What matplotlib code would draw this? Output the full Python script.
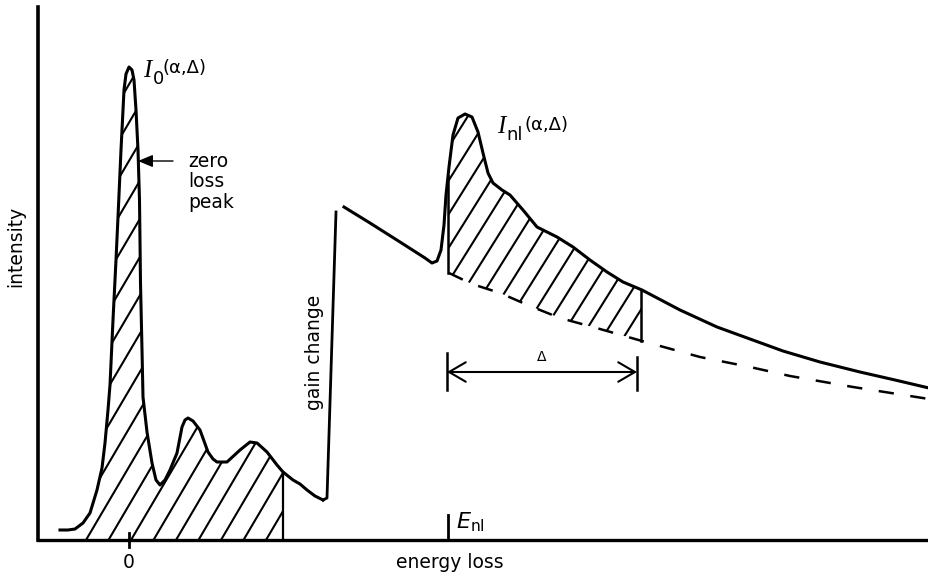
import numpy as np
import matplotlib.pyplot as plt
from matplotlib.collections import LineCollection
from matplotlib.patches import Polygon

# low-loss region: zero-loss peak + plasmon peaks (energy loss, intensity; arbitrary units)
low_e = [-6.9, -6.1, -5.4, -4.6, -3.9, -3.2, -2.7, -2.4, -2.1, -1.9, -1.6, -1.3, -1.1,
         -0.8, -0.5, -0.3, 0.0, 0.3, 0.5, 0.7, 0.9, 1.05, 1.15, 1.3, 1.4, 1.8, 2.3, 2.7,
         3.1, 3.6, 4.1, 4.8, 5.3, 5.6, 5.9, 6.4, 7.1, 7.9, 8.4, 8.8, 9.8, 11.1, 12.1,
         12.8, 13.8, 14.8, 15.4, 16.4, 17.1, 17.8, 18.6, 19.4]
low_i = [1.0, 1.0, 1.1, 1.7, 2.7, 5.0, 7.2, 9.7, 13.0, 15.5, 22.0, 28.0, 32.3,
         39.0, 45.0, 46.6, 47.3, 47.0, 46.0, 43.0, 39.0, 34.0, 25.7, 19.0, 14.3, 10.8, 7.7, 6.0,
         5.5, 6.0, 7.0, 8.7, 11.3, 12.0, 12.2, 11.9, 11.0, 8.8, 8.1, 7.8, 7.8, 9.0, 9.8,
         9.7, 8.8, 7.5, 6.8, 6.0, 5.6, 5.0, 4.4, 4.0]

# gain change step
gain_e = [19.4, 19.8, 20.7]
gain_i = [4.0, 4.2, 32.8]

# core-loss region with ionization edge
core_e = [21.5, 24.1, 27.1, 29.6, 30.3, 30.8, 31.2, 31.5, 31.7, 32.0, 32.4, 32.9, 33.6,
          34.3, 34.9, 35.4, 35.9, 36.4, 37.3, 38.1, 39.4, 40.8, 42.8, 44.4, 46.1, 47.8,
          49.4, 51.3, 55.1, 58.8, 62.1, 65.4, 69.1, 73.1, 76.6, 80.0]
core_i = [33.3, 31.7, 29.8, 28.2, 27.7, 27.9, 29.0, 31.5, 34.5, 37.3, 40.5, 42.2, 42.6,
          42.3, 40.8, 38.7, 36.7, 35.7, 35.0, 34.5, 33.0, 31.3, 30.3, 29.3, 28.0, 26.8,
          25.8, 25.0, 23.0, 21.3, 20.1, 18.9, 17.8, 16.8, 16.0, 15.2]

# extrapolated background below the edge
bg_e = [32.0, 34.3, 37.1, 40.1, 43.1, 47.1, 51.3, 57.1, 62.1, 66.1, 72.4, 80.0]
bg_i = [26.7, 25.6, 24.7, 23.4, 22.2, 21.1, 19.9, 18.3, 17.3, 16.4, 15.3, 14.1]

e_nl = 31.9
delta = 19.3
low_window = (-5.4, 15.4)

plt.rcParams['font.family'] = ['DejaVu Sans']
plt.rcParams['lines.scale_dashes'] = False

fig = plt.figure(figsize=(9.29, 5.76), dpi=100)
ax = fig.add_axes([38 / 929, 36 / 576, 891 / 929, 533 / 576])
for s in ['top', 'right']:
    ax.spines[s].set_visible(False)
ax.spines['left'].set_linewidth(2.6)
ax.spines['bottom'].set_linewidth(2.4)
ax.set_xticks([])
ax.set_yticks([])


def window_poly(xe, yi, lo, hi, base_e=None, base_i=None):
    xe = np.asarray(xe)
    yi = np.asarray(yi)
    inner = (xe > lo) & (xe < hi)
    xs = np.concatenate([[lo], xe[inner], [hi]])
    top = np.interp(xs, xe, yi)
    if base_e is None:
        bot = np.zeros_like(xs)
    else:
        bot = np.interp(xs, base_e, base_i)
    return np.vstack([np.column_stack([xs, top]), np.column_stack([xs[::-1], bot[::-1]])])


def hatch(poly_xy, phase, step, slope):
    poly = Polygon(poly_xy, closed=True, facecolor='none', edgecolor='none')
    ax.add_patch(poly)
    offs = np.arange(phase - 20 * step, phase + 40 * step, step)
    segs = [[(x0, 0), (x0 + 60 / slope, 60)] for x0 in offs]
    lc = LineCollection(segs, colors='black', linewidths=1.5)
    ax.add_collection(lc)
    lc.set_clip_path(poly)


# hatched windows
hatch(window_poly(low_e, low_i, *low_window), -4.3, 2.25, 1.7)
end = e_nl + delta
hatch(window_poly(core_e, core_i, e_nl, end, bg_e, bg_i), 17.9, 2.1, 1.6)

# spectrum
ax.plot(low_e, low_i, color='black', lw=2.2, solid_joinstyle='round')
ax.plot(gain_e, gain_i, color='black', lw=2.0)
ax.plot(core_e, core_i, color='black', lw=2.2, solid_joinstyle='round')
ax.plot(bg_e, bg_i, color='black', lw=1.8, dashes=(11, 12))

# window edges
ax.plot([low_window[1]] * 2, [0, np.interp(low_window[1], low_e, low_i)], color='black', lw=1.6)
ax.plot([e_nl] * 2, [np.interp(e_nl, bg_e, bg_i), np.interp(e_nl, core_e, core_i)],
        color='black', lw=1.8)
ax.plot([end] * 2, [np.interp(end, bg_e, bg_i), np.interp(end, core_e, core_i)],
        color='black', lw=1.8)

# ticks at 0 and E_nl
ax.plot([0, 0], [-0.7, 0.7], color='black', lw=2.0, clip_on=False)
ax.plot([e_nl, e_nl], [0, 2.5], color='black', lw=2.0)

# delta marker
ax.plot([e_nl - 0.1] * 2, [15.0, 18.7], color='black', lw=1.8)
ax.plot([end - 0.4] * 2, [15.0, 18.3], color='black', lw=1.8)
ax.annotate('', xy=(e_nl - 0.1, 16.8), xytext=(end - 0.4, 16.8),
            arrowprops=dict(arrowstyle='<->,head_length=0.6,head_width=0.35', lw=1.5,
                            color='black', shrinkA=0, shrinkB=0, mutation_scale=20))
ax.text(41.3, 18.3, 'Δ', fontsize=10, ha='center', va='center')

# zero loss arrow
ax.annotate('', xy=(0.9, 37.9), xytext=(4.4, 37.9),
            arrowprops=dict(arrowstyle='-|>,head_length=0.6,head_width=0.25', lw=1.0,
                            color='black', shrinkA=0, shrinkB=0, mutation_scale=15))
ax.text(5.9, 35.8, 'zero\nloss\npeak', fontsize=13.5, ha='left', va='center', linespacing=1.1)

# labels for I_0 and I_nl
ax.text(1.4, 46.3, 'I', fontsize=18, family='Liberation Serif', style='italic', va='baseline')
ax.text(2.35, 45.6, '0', fontsize=13, va='baseline')
ax.text(3.3, 47.2, '(α,Δ)', fontsize=13, va='center')

ax.text(36.8, 40.7, 'I', fontsize=18, family='Liberation Serif', style='italic', va='baseline')
ax.text(37.75, 40.0, 'nl', fontsize=13, va='baseline')
ax.text(39.6, 41.5, '(α,Δ)', fontsize=13, va='center')

ax.text(32.7, 1.2, r'$E_{\mathrm{nl}}$', fontsize=16, va='baseline')

ax.text(18.5, 18.8, 'gain change', fontsize=13.5, rotation=90, ha='center', va='center')
ax.text(-11.3, 29.4, 'intensity', fontsize=13.5, rotation=90, ha='center', va='center')
ax.text(0, -2.2, '0', fontsize=13.5, ha='center', va='center')
ax.text(32.1, -2.3, 'energy loss', fontsize=13.5, ha='center', va='center')

ax.set_xlim(-9.1, 80.0)
ax.set_ylim(0, 53.3)

fig.savefig('out.png', dpi=100)
